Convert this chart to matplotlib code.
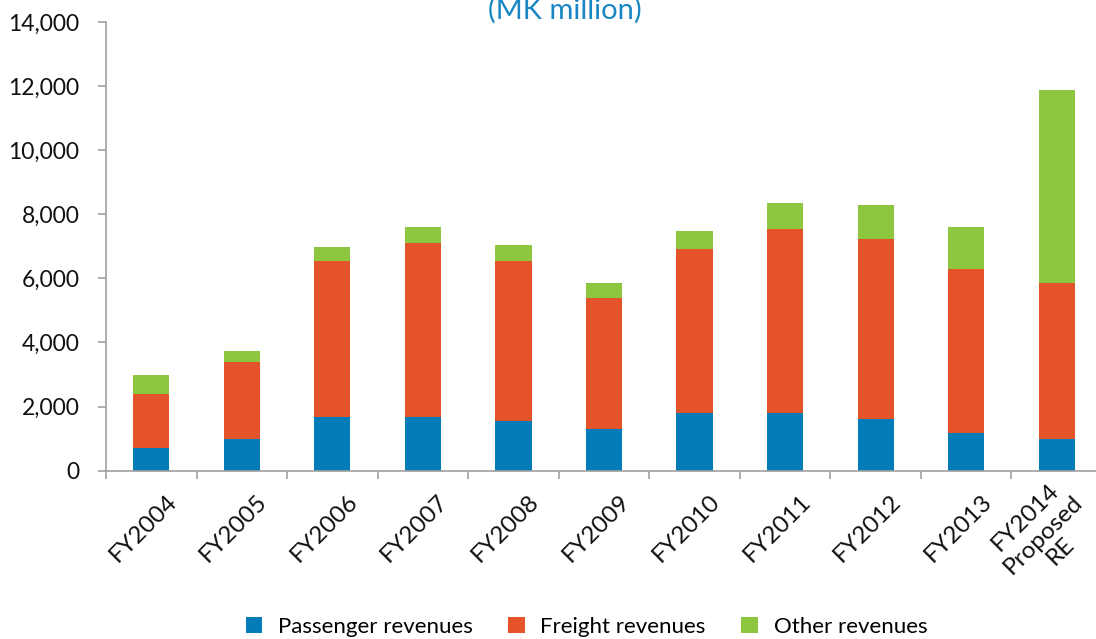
import matplotlib
matplotlib.use("Agg")
import matplotlib.pyplot as plt
import matplotlib.transforms as mtransforms
from matplotlib.ticker import FuncFormatter, FixedLocator
import numpy as np

plt.rcParams['font.family'] = ['Lato', 'DejaVu Sans']

years = ["FY2004", "FY2005", "FY2006", "FY2007", "FY2008", "FY2009",
         "FY2010", "FY2011", "FY2012", "FY2013", "FY2014\nProposed\nRE"]
passenger = [720, 980, 1660, 1675, 1550, 1300, 1800, 1800, 1610, 1175, 990]
freight = [1675, 2415, 4870, 5415, 4980, 4095, 5105, 5730, 5605, 5105, 4855]
other = [575, 325, 460, 500, 500, 450, 560, 810, 1070, 1320, 6045]

c_pass = "#047cb7"
c_freight = "#e5532a"
c_other = "#8dc63f"
axis_grey = "#a0a0a0"

fig = plt.figure(figsize=(10.96, 6.39), dpi=100)
ax = fig.add_axes([0.0967, 0.2634, 0.9088, 0.7022])

x = np.arange(len(years))
p = np.array(passenger)
f = np.array(freight)
o = np.array(other)
w = 0.4
ax.bar(x, p, w, color=c_pass, label="Passenger revenues")
ax.bar(x, f, w, bottom=p, color=c_freight, label="Freight revenues")
ax.bar(x, o, w, bottom=p + f, color=c_other, label="Other revenues")

ax.set_xlim(-0.5, len(years) - 0.5)
ax.set_ylim(0, 14000)
ax.set_yticks(np.arange(0, 14001, 2000))
ax.yaxis.set_major_formatter(FuncFormatter(lambda v, _: f"{int(v):,}"))

for s in ["top", "right"]:
    ax.spines[s].set_visible(False)
for s in ["left", "bottom"]:
    ax.spines[s].set_color(axis_grey)
    ax.spines[s].set_linewidth(1.2)

ax.tick_params(axis="y", length=6, width=1.2, color=axis_grey,
               labelsize=16.5, pad=13, labelcolor="#111111")
# category labels at centres, tick marks on the boundaries
ax.set_xticks(x)
ax.set_xticklabels(years, rotation=45, ha="right", va="center",
                   rotation_mode="anchor", multialignment="center",
                   fontsize=17.5, color="#111111")
ax.tick_params(axis="x", which="major", length=0, pad=20)
shift = mtransforms.ScaledTranslation(22 / 100, 0, fig.dpi_scale_trans)
for lbl in ax.get_xticklabels():
    lbl.set_transform(lbl.get_transform() + shift)
ax.xaxis.set_minor_locator(FixedLocator(np.arange(-0.5, len(years), 1.0)))
ax.tick_params(axis="x", which="minor", length=6, width=1.2, color=axis_grey)

fig.text(0.5155, 0.971, "(MK million)", ha="center", va="baseline",
         fontsize=21, color="#1a87c4")

fig.legend(loc="lower center", bbox_to_anchor=(0.535, -0.028), ncol=3,
           frameon=False, fontsize=16, handlelength=0.75, handleheight=0.75,
           handletextpad=0.7, columnspacing=1.6)

fig.savefig("out.png", dpi=100)
